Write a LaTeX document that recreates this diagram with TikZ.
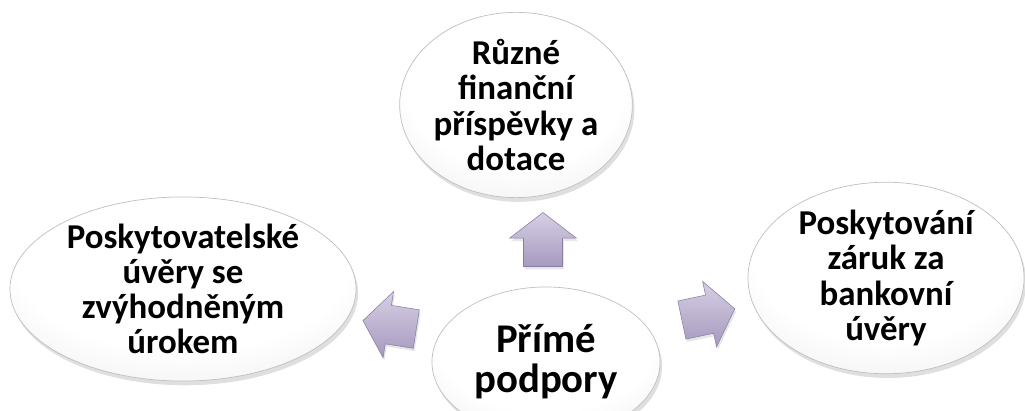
\documentclass[tikz,border=0pt]{standalone}
\usepackage{fontspec}
\setmainfont{Carlito}
\usetikzlibrary{shapes.geometric,shapes.arrows,shadows}
\definecolor{lavtop}{HTML}{D6CFE4}
\definecolor{lavbot}{HTML}{A699BE}
\definecolor{lavedge}{HTML}{8A7FA3}
\pgfdeclareradialshading{bubble}{\pgfpoint{0bp}{14bp}}{color(0bp)=(white); color(24bp)=(white); color(40bp)=(gray!16); color(50bp)=(gray!40)}

\begin{document}
\begin{tikzpicture}[x=0.025cm, y=-0.025cm,
    bubble/.style={ellipse, draw=gray!50, line width=0.5pt, shading=bubble,
        drop shadow={shadow xshift=1.5pt, shadow yshift=-3pt, opacity=0.25},
        align=center, inner sep=0pt, font=\fontsize{24.8}{25}\selectfont\bfseries},
    block/.style={single arrow, draw=lavedge, line width=0.4pt,
        top color=lavtop, bottom color=lavbot, inner xsep=0pt, inner ysep=0.48cm,
        minimum height=1.35cm, single arrow head extend=0.35cm, single arrow tip angle=105,
        drop shadow={shadow xshift=1pt, shadow yshift=-2pt, opacity=0.2}}]
    \useasboundingbox (0,0) rectangle (1025,411);
    % outer bubbles
    \node[bubble, minimum width=5.65cm, minimum height=4.55cm] (grants) at (516,105) {Různé\\finanční\\příspěvky a\\dotace};
    \node[bubble, minimum width=8.65cm, minimum height=4.2cm] (loans) at (183,289) {Poskytovatelské\\úvěry se\\zvýhodněným\\úrokem};
    \node[bubble, minimum width=6.9cm, minimum height=4.5cm] (guarantees) at (886,278) {Poskytování\\záruk za\\bankovní\\úvěry};
    % centre bubble
    \node[bubble, minimum width=5.7cm, minimum height=3.75cm, font=\fontsize{29}{28.5}\selectfont\bfseries] (direct) at (546,362) {Přímé\\podpory};
    % block arrows
    \node[block, rotate=90] (upArrow) at (543,247) {};
    \node[block, rotate=171] (leftArrow) at (397,326) {};
    \node[block, rotate=12] (rightArrow) at (701,316) {};
\end{tikzpicture}
\end{document}
